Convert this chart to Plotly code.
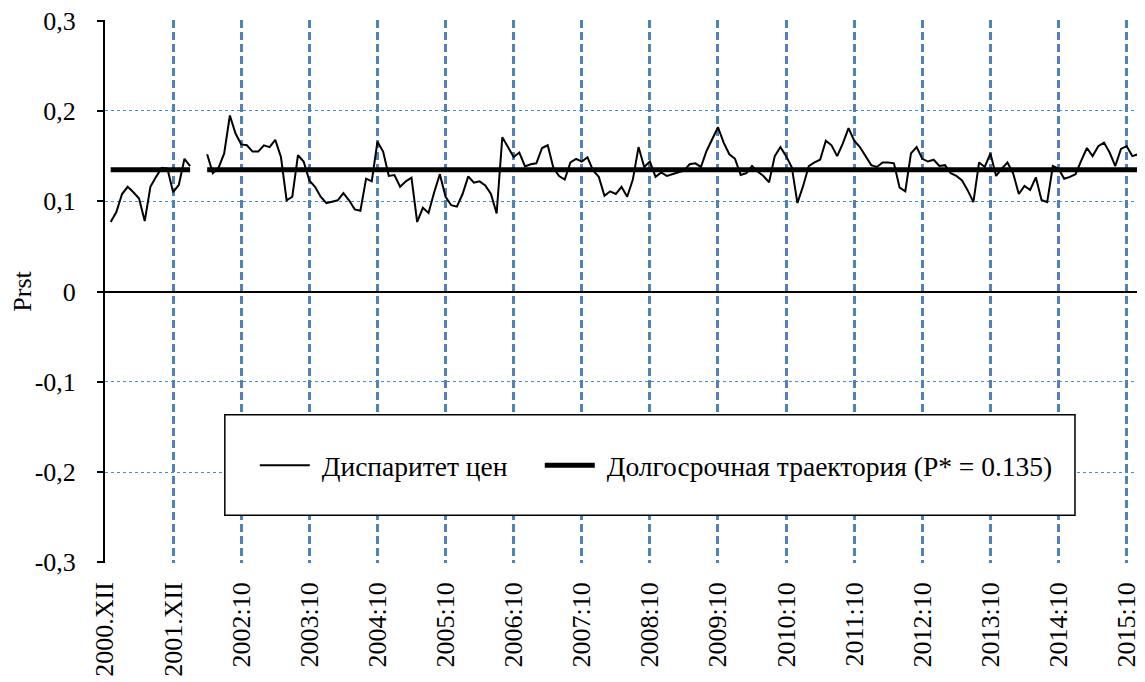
import plotly.graph_objects as go

# ---------------- data ----------------
P_STAR = 0.135

disparity = [
    0.077, 0.088, 0.108, 0.116, 0.110, 0.103, 0.078, 0.116, 0.127, 0.137,
    0.136, 0.110, 0.118, 0.147, 0.139, None, None, 0.152, 0.131, 0.137,
    0.153, 0.195, 0.175, 0.163, 0.162, 0.155, 0.155, 0.162, 0.160, 0.168,
    0.149, 0.101, 0.105, 0.151, 0.144, 0.123, 0.116, 0.105, 0.098, 0.0995,
    0.101, 0.109, 0.101, 0.091, 0.0895, 0.125, 0.122, 0.166, 0.155, 0.128,
    0.129, 0.116, 0.122, 0.126, 0.077, 0.0927, 0.087, 0.110, 0.130, 0.105,
    0.0956, 0.094, 0.108, 0.1275, 0.1205, 0.122, 0.1176, 0.108, 0.0864, 0.171,
    0.160, 0.149, 0.154, 0.1385, 0.141, 0.142, 0.159, 0.162, 0.137, 0.128,
    0.124, 0.143, 0.147, 0.144, 0.1487, 0.134, 0.127, 0.106, 0.111, 0.108,
    0.116, 0.105, 0.124, 0.160, 0.138, 0.144, 0.127, 0.132, 0.128, 0.130,
    0.132, 0.134, 0.141, 0.142, 0.138, 0.156, 0.169, 0.182, 0.165, 0.152,
    0.147, 0.129, 0.131, 0.139, 0.133, 0.128, 0.121, 0.150, 0.160, 0.150,
    0.1377, 0.098, 0.117, 0.139, 0.143, 0.146, 0.167, 0.162, 0.150, 0.164,
    0.181, 0.167, 0.160, 0.150, 0.140, 0.138, 0.143, 0.143, 0.142, 0.115,
    0.111, 0.153, 0.160, 0.147, 0.144, 0.146, 0.139, 0.140, 0.131, 0.128,
    0.123, 0.112, 0.099, 0.143, 0.138, 0.153, 0.128, 0.136, 0.143, 0.131,
    0.108, 0.117, 0.1125, 0.1265, 0.1015, 0.099, 0.139, 0.136, 0.125, 0.127,
    0.130, 0.145, 0.159, 0.150, 0.161, 0.165, 0.154, 0.139, 0.158, 0.161,
    0.150, 0.152,
]

tick_labels = ["2000.XII", "2001.XII", "2002:10", "2003:10", "2004:10",
               "2005:10", "2006:10", "2007:10", "2008:10", "2009:10",
               "2010:10", "2011:10", "2012:10", "2013:10", "2014:10",
               "2015:10"]

y_ticks = [-0.3, -0.2, -0.1, 0.0, 0.1, 0.2, 0.3]
y_tick_labels = ["-0,3", "-0,2", "-0,1", "0", "0,1", "0,2", "0,3"]

series_names = ["Диспаритет цен", "Долгосрочная траектория (P* = 0.135)"]

# ---------------- derived ----------------
x_idx = list(range(len(disparity)))
longrun = [P_STAR if v is not None else None for v in disparity]
tick_pos = [-1 + 12 * k for k in range(len(tick_labels))]

FONT = "Liberation Serif"
NBSP = "\u00a0"

fig = go.Figure()
fig.add_trace(go.Scatter(
    x=x_idx, y=disparity, mode="lines", name=NBSP + series_names[0],
    line=dict(color="black", width=2), connectgaps=False, legendwidth=220,
))
fig.add_trace(go.Scatter(
    x=x_idx, y=longrun, mode="lines", name=NBSP + series_names[1],
    line=dict(color="black", width=5), connectgaps=False,
))

# legend box
fig.add_shape(type="rect", xref="paper", yref="paper",
              x0=0.116, x1=0.939, y0=0.088, y1=0.273,
              line=dict(color="black", width=1.5), fillcolor="white",
              layer="above")

fig.update_layout(
    width=1137, height=674,
    margin=dict(l=97, r=7, t=12, b=119, autoexpand=False),
    paper_bgcolor="white", plot_bgcolor="white",
    font=dict(family=FONT, size=26, color="black"),
    showlegend=True,
    legend=dict(orientation="h", x=0.145, xanchor="left",
                y=0.18, yanchor="middle", bgcolor="rgba(0,0,0,0)",
                borderwidth=0, font=dict(size=27.5, family=FONT),
                itemwidth=50),
)

fig.update_xaxes(
    range=[-1, 181], tickmode="array", tickvals=tick_pos, ticktext=tick_labels,
    tickangle=-90, showgrid=True, gridcolor="#4F81BD", gridwidth=3,
    griddash="8px,4px", zeroline=False, showline=False, ticks="",
    tickfont=dict(size=26, family=FONT), ticklabelstandoff=13,
    ticklabeloverflow="allow", automargin=False,
)
fig.update_yaxes(
    range=[-0.3008, 0.3008], tickmode="array", tickvals=y_ticks,
    ticktext=y_tick_labels,
    showgrid=True, gridcolor="#3d8fdc", gridwidth=1, griddash="dot",
    zeroline=True, zerolinecolor="black", zerolinewidth=2,
    showline=True, linecolor="black", linewidth=2,
    ticks="outside", ticklen=6, tickcolor="black", tickwidth=2,
    title=dict(text="Prst", font=dict(size=26, family=FONT), standoff=6),
    tickfont=dict(size=26, family=FONT), ticklabelstandoff=16,
    ticklabeloverflow="allow", automargin=False,
)

fig.write_html("out.html")
